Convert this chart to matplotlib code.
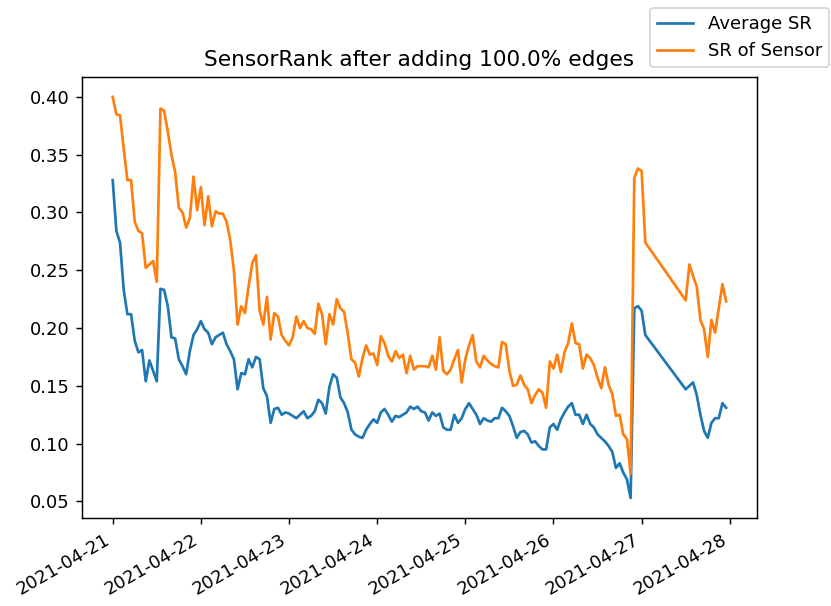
import matplotlib
matplotlib.use("Agg")
import matplotlib.pyplot as plt
import pandas as pd

# hourly samples from 2021-04-21 00:00; no data between hour 145 and 156
start = "2021-04-21"
hours = list(range(0, 146)) + list(range(156, 168))

avg_sr = [
    0.328, 0.284, 0.274, 0.233, 0.212, 0.212, 0.189, 0.179, 0.181, 0.154,
    0.172, 0.163, 0.154, 0.234, 0.233, 0.219, 0.192, 0.191, 0.173, 0.167,
    0.160, 0.180, 0.194, 0.199, 0.206, 0.199, 0.196, 0.186, 0.192, 0.194,
    0.196, 0.186, 0.180, 0.173, 0.147, 0.161, 0.160, 0.173, 0.166, 0.175,
    0.173, 0.148, 0.141, 0.118, 0.130, 0.131, 0.125, 0.127, 0.126, 0.124,
    0.122, 0.125, 0.128, 0.122, 0.124, 0.128, 0.138, 0.135, 0.126, 0.149,
    0.160, 0.157, 0.140, 0.135, 0.127, 0.112, 0.108, 0.106, 0.105, 0.112,
    0.117, 0.121, 0.118, 0.127, 0.130, 0.125, 0.119, 0.124, 0.123, 0.125,
    0.127, 0.132, 0.130, 0.132, 0.128, 0.127, 0.120, 0.127, 0.124, 0.126,
    0.114, 0.112, 0.112, 0.125, 0.118, 0.122, 0.130, 0.135, 0.130, 0.125,
    0.117, 0.122, 0.120, 0.119, 0.122, 0.122, 0.131, 0.128, 0.124, 0.115,
    0.105, 0.110, 0.111, 0.108, 0.101, 0.102, 0.098, 0.095, 0.095, 0.114,
    0.117, 0.112, 0.121, 0.127, 0.132, 0.135, 0.125, 0.125, 0.117, 0.125,
    0.117, 0.114, 0.108, 0.105, 0.102, 0.098, 0.093, 0.079, 0.083, 0.075,
    0.069, 0.053, 0.217, 0.219, 0.215, 0.194,
    0.147, 0.150, 0.153, 0.142, 0.125, 0.111, 0.105, 0.118, 0.122, 0.122,
    0.135, 0.131,
]

sensor_sr = [
    0.400, 0.385, 0.384, 0.355, 0.328, 0.328, 0.292, 0.284, 0.282, 0.252,
    0.255, 0.258, 0.240, 0.390, 0.388, 0.370, 0.350, 0.335, 0.304, 0.300,
    0.287, 0.295, 0.331, 0.302, 0.322, 0.289, 0.314, 0.288, 0.301, 0.299,
    0.299, 0.292, 0.276, 0.250, 0.203, 0.219, 0.213, 0.236, 0.256, 0.263,
    0.215, 0.203, 0.227, 0.190, 0.213, 0.210, 0.194, 0.189, 0.185, 0.192,
    0.210, 0.200, 0.206, 0.200, 0.199, 0.195, 0.221, 0.212, 0.186, 0.212,
    0.203, 0.225, 0.217, 0.214, 0.195, 0.173, 0.170, 0.158, 0.174, 0.185,
    0.177, 0.178, 0.168, 0.193, 0.187, 0.176, 0.171, 0.180, 0.174, 0.177,
    0.161, 0.176, 0.164, 0.167, 0.167, 0.167, 0.166, 0.176, 0.164, 0.192,
    0.163, 0.160, 0.164, 0.173, 0.181, 0.153, 0.173, 0.185, 0.194, 0.171,
    0.166, 0.176, 0.172, 0.169, 0.167, 0.166, 0.188, 0.186, 0.163, 0.150,
    0.151, 0.159, 0.151, 0.147, 0.135, 0.142, 0.147, 0.144, 0.131, 0.171,
    0.165, 0.177, 0.162, 0.179, 0.187, 0.204, 0.187, 0.186, 0.165, 0.177,
    0.174, 0.168, 0.157, 0.148, 0.166, 0.151, 0.143, 0.124, 0.125, 0.108,
    0.104, 0.074, 0.330, 0.338, 0.336, 0.274,
    0.224, 0.255, 0.245, 0.236, 0.207, 0.199, 0.175, 0.207, 0.196, 0.217,
    0.238, 0.223,
]

pct_edges = 100.0

times = pd.Timestamp(start) + pd.to_timedelta(hours, unit="h")

fig = plt.figure(figsize=(831 / 130, 606 / 130), dpi=130)
ax = fig.add_axes([0.0987, 0.1452, 0.812, 0.728])
ax.plot(times, avg_sr, label="Average SR")
ax.plot(times, sensor_sr, label="SR of Sensor")
ax.set_title(f"SensorRank after adding {pct_edges}% edges")
plt.setp(ax.get_xticklabels(), rotation=30, ha="right")
fig.legend(loc="upper right", bbox_to_anchor=(0.998, 0.987), borderaxespad=0)

fig.savefig("out.png", dpi=130)
